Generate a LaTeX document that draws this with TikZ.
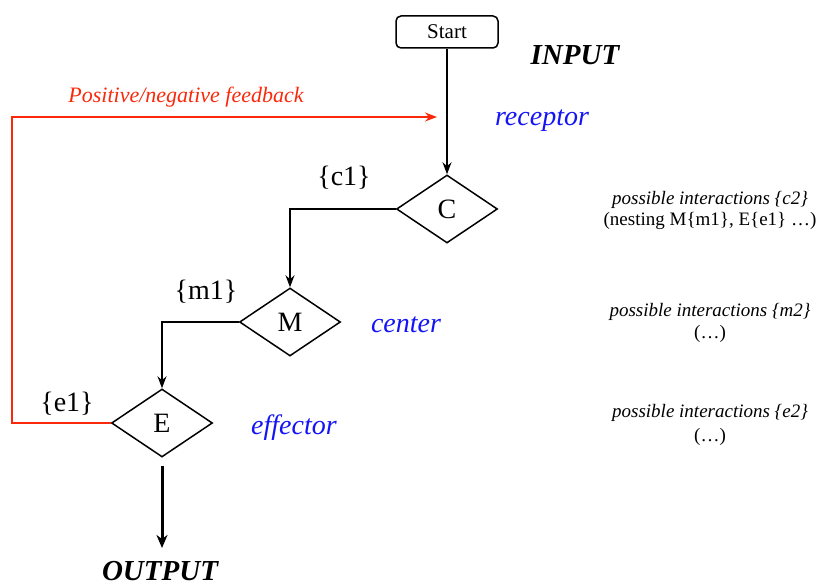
\documentclass[tikz,border=0pt]{standalone}
\usepackage{fontspec}
\setmainfont{Liberation Serif}
\usetikzlibrary{shapes.geometric,arrows.meta}
\definecolor{fbred}{RGB}{250,40,10}
\definecolor{tagblue}{RGB}{20,20,245}
\begin{document}
\begin{tikzpicture}[x=1pt,y=-1pt,
  every node/.style={inner sep=0pt},
  big/.style={font=\fontsize{28}{30}\selectfont},
  mid/.style={font=\fontsize{22}{24}\selectfont\itshape},
  small/.style={font=\fontsize{19}{21}\selectfont},
  smallit/.style={font=\fontsize{19}{21}\selectfont\itshape},
  decision/.style={shape=diamond,draw,line width=1.5pt,minimum width=101pt,minimum height=68pt,big},
  startbox/.style={draw,line width=1.5pt,rounded corners=5pt,minimum width=102pt,minimum height=32pt,font=\fontsize{21}{23}\selectfont},
  flow/.style={line width=1.5pt,-{Stealth[length=12pt,width=9pt,inset=4pt]}},
  outflow/.style={line width=3pt,-{Stealth[length=13pt,width=11pt,inset=4pt]}},
  fb/.style={line width=1.5pt,draw=fbred,-{Stealth[length=12pt,width=9pt,inset=4pt]}},
  role/.style={font=\fontsize{28}{30}\selectfont\itshape,text=tagblue},
  io/.style={font=\fontsize{29}{31}\selectfont\bfseries\itshape}]
\useasboundingbox (0,0) rectangle (818,588);

% flow elements
\node[startbox] (start) at (447,32) {Start};
\node[decision] (C) at (447,209) {C};
\node[decision] (M) at (290,322) {M};
\node[decision] (E) at (162,423) {E};
\coordinate (outend) at (162,548);
\coordinate (fbcorner) at (12,117);
\coordinate (fbend) at (437,117);

% connectors
\draw[flow] (start) -- (C);
\draw[flow] (C.west) -| (M.north);
\draw[flow] (M.west) -| (E.north);
\draw[outflow, shorten <=8pt] (E.south) -- (outend);
\draw[fb] (E.west) -| (fbcorner) -- (fbend);

% labels
\node[io] (input) at (575,55) {INPUT};
\node[io] (output) at (160,571) {OUTPUT};
\node[role] (receptor) at (542,121) {receptor};
\node[role] (center) at (406,325) {center};
\node[role] (effector) at (294,428) {effector};
\node[mid,text=fbred] (fblabel) at (186,97) {Positive/negative feedback};
\node[big] (c1) at (344,178) {\{c1\}};
\node[big] (m1) at (206,292) {\{m1\}};
\node[big] (e1) at (67,404) {\{e1\}};

% side notes
\node[smallit] (c2) at (710,200) {possible interactions \{c2\}};
\node[small] (c2b) at (710,221) {(nesting M\{m1\}, E\{e1\} …)};
\node[smallit] (m2) at (710,312) {possible interactions \{m2\}};
\node[small] (m2b) at (710,334) {(…)};
\node[smallit] (e2) at (710,413) {possible interactions \{e2\}};
\node[small] (e2b) at (710,437) {(…)};
\end{tikzpicture}
\end{document}
